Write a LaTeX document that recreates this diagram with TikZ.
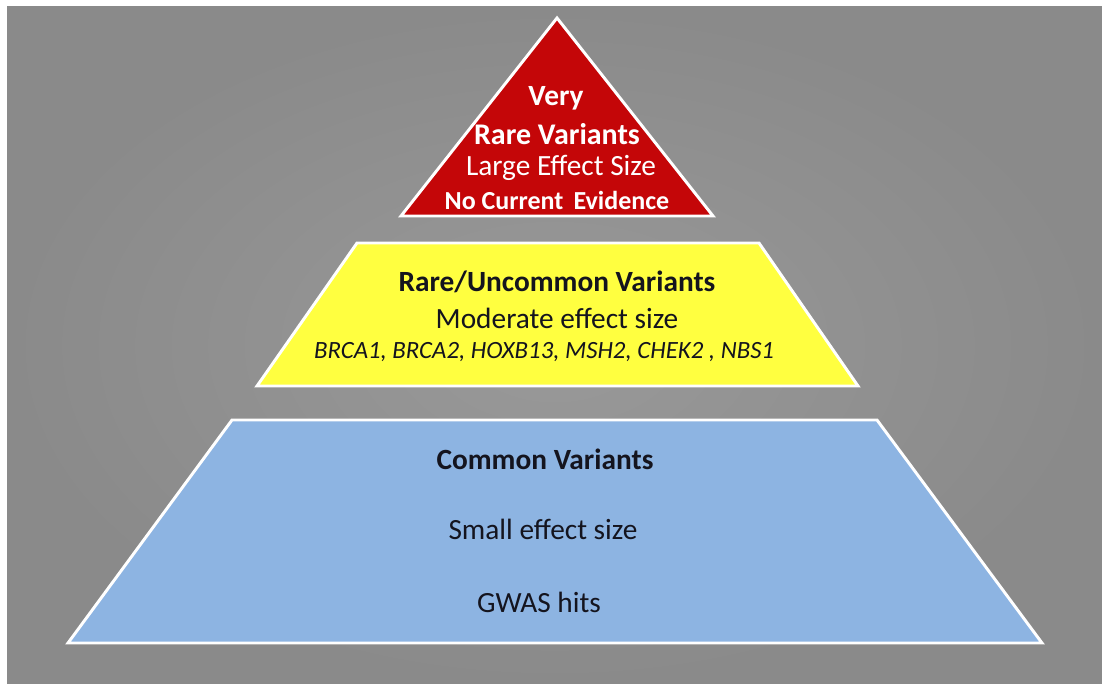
\documentclass[tikz,border=0pt]{standalone}
\usepackage{fontspec}
\setmainfont{Carlito}
\definecolor{tierred}{RGB}{196,6,8}
\definecolor{tieryellow}{RGB}{255,255,64}
\definecolor{tierblue}{RGB}{141,180,226}
\definecolor{bgin}{RGB}{153,153,153}
\definecolor{bgout}{RGB}{138,138,138}
\definecolor{ink}{RGB}{20,20,30}
\begin{document}
\begin{tikzpicture}[x=0.75pt,y=-0.75pt]
  \tikzset{ tier/.style={draw=white,line width=2.2pt,line join=miter},
    lbl/.style={inner sep=0pt,anchor=center,font=\fontsize{22}{26}\selectfont},
  }
  \useasboundingbox (0,0) rectangle (1102,684);
  \shade[inner color=bgin, outer color=bgout] (7,7) rectangle (1102,684);

  % three tiers
  \draw[tier, fill=tierred] (557,18) -- (713,216) -- (401,216) -- cycle;
  \draw[tier, fill=tieryellow] (357,243) -- (759,243) -- (858,386) -- (257,386) -- cycle;
  \draw[tier, fill=tierblue] (232,420) -- (877,420) -- (1042,643) -- (68,643) -- cycle;

  \node[lbl, white, font=\fontsize{22}{26}\selectfont\bfseries] (very) at (556,98) {Very};
  \node[lbl, white, font=\fontsize{22.5}{26}\selectfont\bfseries] (rare) at (557,134) {Rare Variants};
  \node[lbl, white, font=\fontsize{22}{26}\selectfont] (large) at (561,168) {Large Effect Size};
  \node[lbl, white, font=\fontsize{19.5}{24}\selectfont\bfseries] (noev) at (557,200) {No Current\, Evidence};

  \node[lbl, ink, font=\fontsize{22}{26}\selectfont\bfseries] (uncommon) at (557,282) {Rare/Uncommon Variants};
  \node[lbl, ink] (moderate) at (557,318) {Moderate effect size};
  \node[lbl, ink, font=\fontsize{18.6}{24}\selectfont\itshape] (genes) at (544,352) {BRCA1, BRCA2, HOXB13, MSH2, CHEK2 , NBS1};

  \node[lbl, ink, font=\fontsize{22}{26}\selectfont\bfseries] (common) at (545,459) {Common Variants};
  \node[lbl, ink] (small) at (543,529) {Small effect size};
  \node[lbl, ink] (gwas) at (539,602) {GWAS hits};
\end{tikzpicture}
\end{document}
